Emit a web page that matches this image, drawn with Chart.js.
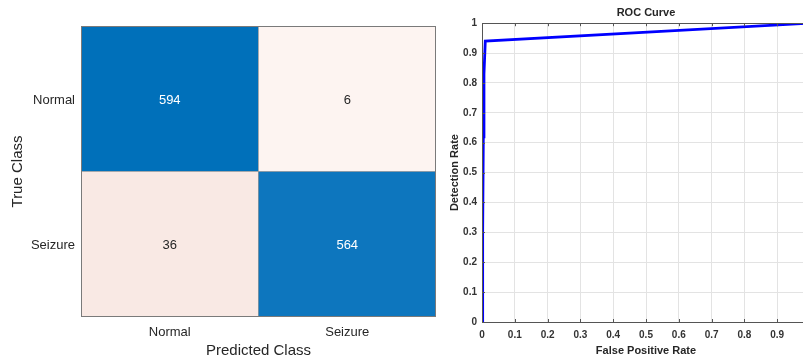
<!DOCTYPE html>
<html>
<head>
<meta charset="utf-8">
<script src="https://cdn.jsdelivr.net/npm/chart.js@4"></script>
<style>
    html, body { margin: 0; padding: 0; background: #fff; overflow: hidden; width: 803px; height: 364px; }
    #cmWrap { position: absolute; left: 0; top: 0; width: 446px; height: 364px; }
    #rocWrap { position: absolute; left: 440px; top: 0; width: 390px; height: 364px; }
</style>
</head>
<body>
<div id="cmWrap"><canvas id="cmChart"></canvas></div>
<div id="rocWrap"><canvas id="rocChart"></canvas></div>
<script>
// Confusion matrix data (rows = true class, cols = predicted class)
const classes = ['Normal', 'Seizure'];
const rowNormal = [594, 6];
const rowSeizure = [36, 564];
const rowNormalColors = ['#0070BA', '#FDF4F1'];
const rowSeizureColors = ['#F9E9E4', '#0D76BE'];
const rowNormalText = ['#ffffff', '#262626'];
const rowSeizureText = ['#262626', '#ffffff'];

// ROC curve data
const fpr = [0, 0.002, 0.004, 0.006, 0.01, 1];
const tpr = [0, 0.3, 0.62, 0.83, 0.94, 1];
const rocTicks = [0, 0.1, 0.2, 0.3, 0.4, 0.5, 0.6, 0.7, 0.8, 0.9, 1];

const armFont = 'Arial, "Liberation Sans", Helvetica, sans-serif';

// draws the count in the middle of each cell
const cellText = {
    id: 'cellText',
    afterDatasetsDraw(chart) {
        const ctx = chart.ctx;
        ctx.save();
        ctx.font = '13px ' + armFont;
        ctx.textAlign = 'center';
        ctx.textBaseline = 'middle';
        chart.data.datasets.forEach((ds, i) => {
            chart.getDatasetMeta(i).data.forEach((bar, j) => {
                const c = bar.getCenterPoint();
                ctx.fillStyle = ds.textColors[j];
                ctx.fillText(String(ds.counts[j]), c.x, c.y + 1.5);
            });
        });
        const a = chart.chartArea;
        ctx.strokeStyle = '#7a7a7a';
        ctx.lineWidth = 1;
        ctx.strokeRect(Math.round(a.left) + 0.5, Math.round(a.top) + 0.5, Math.round(a.right - a.left) - 1, Math.round(a.bottom - a.top) - 1);
        ctx.restore();
    }
};

new Chart(document.getElementById('cmChart'), {
    type: 'bar',
    data: {
        labels: classes,
        datasets: [
            {
                data: classes.map(() => 1),
                counts: rowSeizure,
                backgroundColor: rowSeizureColors,
                textColors: rowSeizureText,
                borderColor: '#8a8a8a',
                borderWidth: 0.5,
                borderSkipped: false
            },
            {
                data: classes.map(() => 1),
                counts: rowNormal,
                backgroundColor: rowNormalColors,
                textColors: rowNormalText,
                borderColor: '#8a8a8a',
                borderWidth: 0.5,
                borderSkipped: false
            }
        ]
    },
    options: {
        responsive: true,
        maintainAspectRatio: false,
        animation: false,
        layout: { padding: { top: 26, right: 10, left: 0, bottom: 0 } },
        datasets: { bar: { categoryPercentage: 1, barPercentage: 1 } },
        plugins: {
            legend: { display: false },
            tooltip: { enabled: false }
        },
        scales: {
            x: {
                stacked: true,
                grid: { display: false, drawTicks: false },
                border: { display: false },
                ticks: { color: '#262626', padding: 8, font: { size: 13, family: armFont } },
                title: {
                    display: true,
                    text: 'Predicted Class',
                    color: '#262626',
                    font: { size: 15, family: armFont },
                    padding: { top: 0, bottom: 4 }
                },
                afterFit(scale) { scale.height = 47; }
            },
            y: {
                stacked: true,
                min: 0,
                max: 2,
                grid: { display: false, drawTicks: false },
                border: { display: false },
                afterBuildTicks(scale) {
                    scale.ticks = [{ value: 0.49 }, { value: 1.49 }];
                },
                ticks: {
                    color: '#262626',
                    padding: 6,
                    font: { size: 13, family: armFont },
                    callback: (v) => (v < 1 ? classes[1] : classes[0])
                },
                title: {
                    display: true,
                    text: 'True Class',
                    color: '#262626',
                    font: { size: 15, family: armFont },
                    padding: { top: 9, bottom: 0 }
                },
                afterFit(scale) { scale.width = 81; }
            }
        }
    },
    plugins: [cellText]
});

// frame and inward tick marks, matlab style
const axesBox = {
    id: 'axesBox',
    afterDraw(chart) {
        const ctx = chart.ctx;
        const a = chart.chartArea;
        const xs = chart.scales.x, ys = chart.scales.y;
        ctx.save();
        ctx.strokeStyle = '#555555';
        ctx.lineWidth = 1;
        ctx.beginPath();
        rocTicks.forEach(t => {
            const px = Math.round(xs.getPixelForValue(t)) + 0.5;
            ctx.moveTo(px, a.bottom); ctx.lineTo(px, a.bottom - 3);
            ctx.moveTo(px, a.top); ctx.lineTo(px, a.top + 3);
            const py = Math.round(ys.getPixelForValue(t)) + 0.5;
            ctx.moveTo(a.left, py); ctx.lineTo(a.left + 3, py);
        });
        ctx.stroke();
        ctx.strokeRect(Math.round(a.left) + 0.5, Math.round(a.top) + 0.5, Math.round(a.right - a.left), Math.round(a.bottom - a.top));
        ctx.restore();
    }
};

const boldTick = { size: 10, weight: 'bold', family: armFont };

new Chart(document.getElementById('rocChart'), {
    type: 'line',
    data: {
        datasets: [{
            data: fpr.map((x, i) => ({ x: x, y: tpr[i] })),
            borderColor: '#0000ff',
            borderWidth: 2.8,
            pointRadius: 0,
            fill: false,
            tension: 0
        }]
    },
    options: {
        responsive: true,
        maintainAspectRatio: false,
        animation: false,
        layout: { padding: { top: 0, right: 20, left: 0, bottom: 0 } },
        plugins: {
            legend: { display: false },
            tooltip: { enabled: false },
            title: {
                display: true,
                text: 'ROC Curve',
                fullSize: false,
                color: '#262626',
                font: { size: 11, weight: 'bold', family: armFont },
                padding: { top: 6, bottom: 4 }
            }
        },
        scales: {
            x: {
                type: 'linear',
                min: 0,
                max: 1,
                afterBuildTicks(scale) { scale.ticks = rocTicks.map(v => ({ value: v })); },
                grid: { color: '#e3e3e3', drawTicks: false },
                border: { display: false },
                ticks: {
                    color: '#333333',
                    padding: 7,
                    font: boldTick,
                    maxRotation: 0,
                    autoSkip: false,
                    callback: (v) => String(v)
                },
                title: {
                    display: true,
                    text: 'False Positive Rate',
                    color: '#262626',
                    font: { size: 11, weight: 'bold', family: armFont },
                    padding: { top: 0, bottom: 6 }
                },
                afterFit(scale) { scale.height = 42; }
            },
            y: {
                type: 'linear',
                min: 0,
                max: 1,
                afterBuildTicks(scale) { scale.ticks = rocTicks.map(v => ({ value: v })); },
                grid: { color: '#e3e3e3', drawTicks: false },
                border: { display: false },
                ticks: {
                    color: '#333333',
                    padding: 5,
                    font: boldTick,
                    autoSkip: false,
                    callback: (v) => String(v)
                },
                title: {
                    display: true,
                    text: 'Detection Rate',
                    color: '#262626',
                    font: { size: 11, weight: 'bold', family: armFont },
                    padding: { top: 8, bottom: 0 }
                },
                afterFit(scale) { scale.width = 42; }
            }
        }
    },
    plugins: [axesBox]
});
</script>
</body>
</html>
